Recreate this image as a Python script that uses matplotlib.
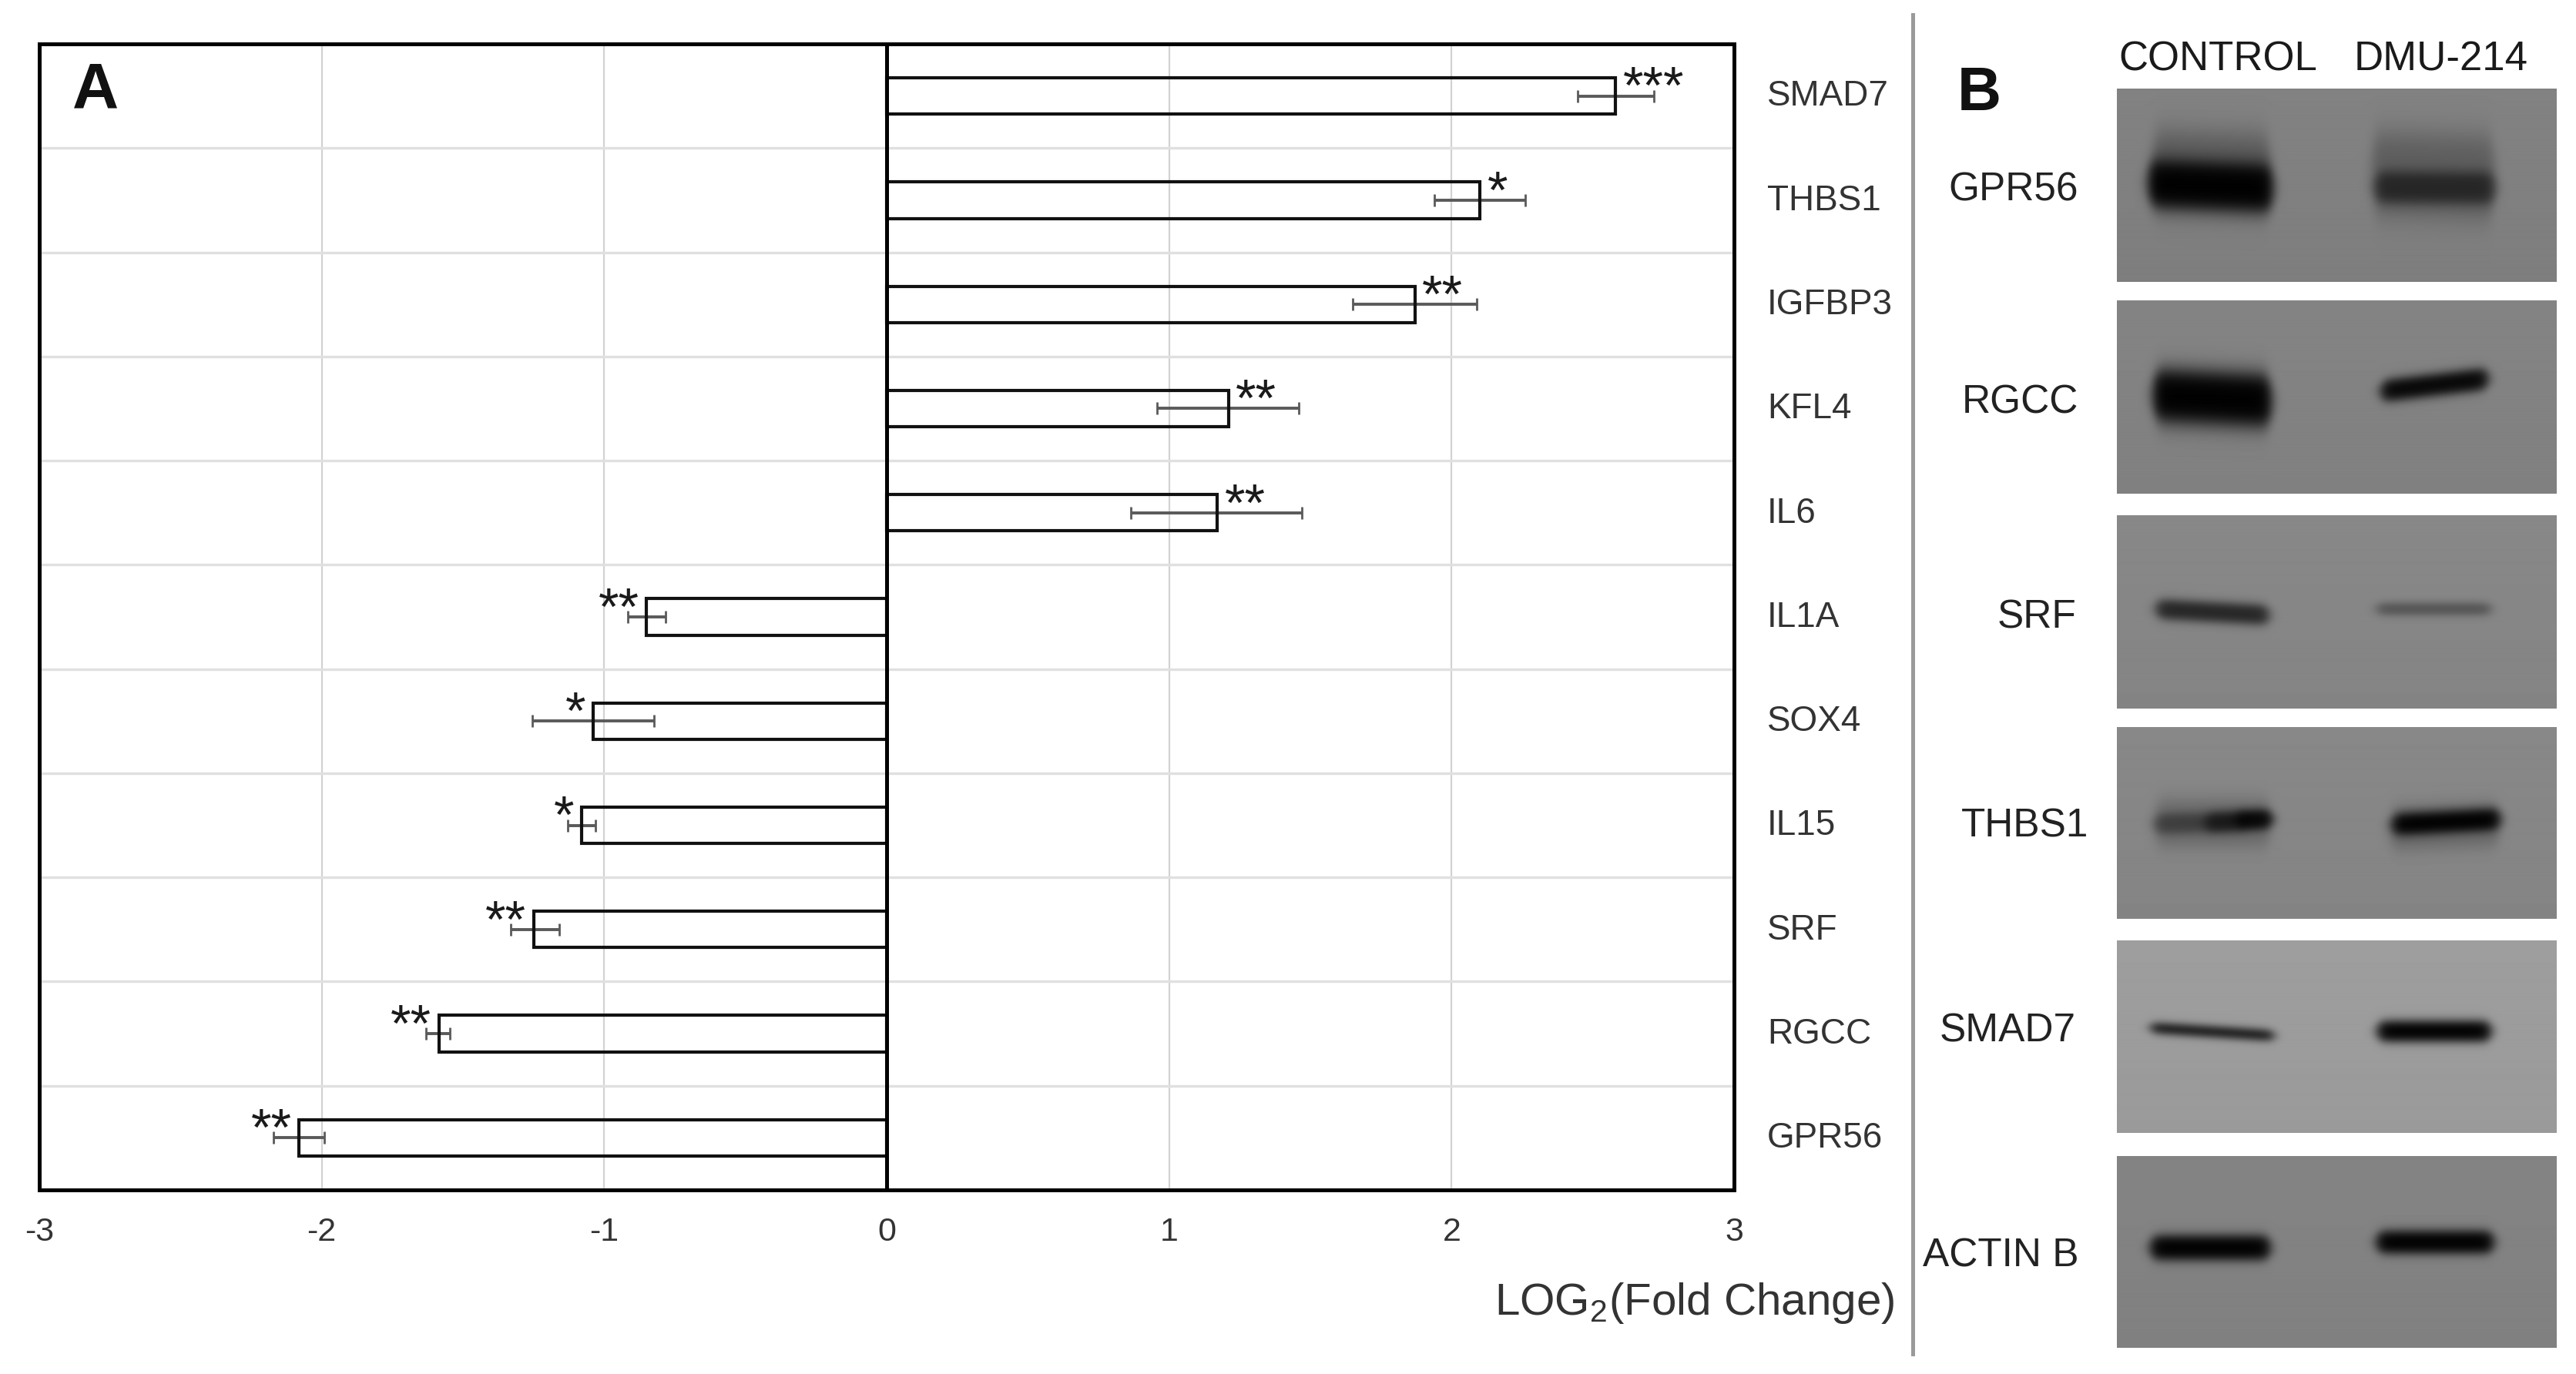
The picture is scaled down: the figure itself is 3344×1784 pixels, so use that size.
import numpy as np
import matplotlib
matplotlib.use("Agg")
import matplotlib.pyplot as plt
from matplotlib.ticker import FixedLocator

plt.rcParams['font.family'] = ['Liberation Sans', 'DejaVu Sans']
plt.rcParams['mathtext.default'] = 'regular'
plt.rcParams['axes.unicode_minus'] = False

# ---- panel A data ----
genes = ["SMAD7", "THBS1", "IGFBP3", "KFL4", "IL6", "IL1A", "SOX4", "IL15", "SRF", "RGCC", "GPR56"]
log2fc = [2.58, 2.10, 1.87, 1.21, 1.17, -0.85, -1.04, -1.08, -1.25, -1.585, -2.08]
err_low = [2.447, 1.94, 1.65, 0.957, 0.865, -0.917, -1.255, -1.13, -1.33, -1.63, -2.17]
err_high = [2.717, 2.26, 2.09, 1.46, 1.47, -0.783, -0.824, -1.03, -1.16, -1.547, -1.99]
stars = ["***", "*", "**", "**", "**", "**", "*", "*", "**", "**", "**"]
xtick_values = [-3, -2, -1, 0, 1, 2, 3]

# ---- panel B data ----
blot_names = ["GPR56", "RGCC", "SRF", "THBS1", "SMAD7", "ACTIN B"]
lane_names = ["CONTROL", "DMU-214"]
blot_background = [128, 130, 134, 134, 156, 130]
# each band: x start, x end, y at start, y at end, thickness, darkness
blot_bands = [
    [(.08, .35, .42, .44, .40, .30), (.07, .355, .49, .515, .24, 1.0), (.58, .86, .44, .46, .42, .28), (.587, .86, .51, .515, .16, .60)],
    [(.085, .35, .50, .52, .32, .22), (.082, .351, .49, .52, .25, 1.0), (.60, .845, .47, .405, .11, .95)],
    [(.088, .346, .487, .519, .10, .72), (.59, .852, .487, .487, .06, .38)],
    [(.085, .351, .50, .50, .24, .22), (.085, .30, .505, .49, .10, .42), (.20, .351, .50, .48, .10, .60), (.27, .351, .485, .48, .09, .85),
     (.62, .872, .53, .51, .22, .22), (.626, .872, .509, .48, .11, 1.0)],
    [(.075, .358, .456, .497, .055, .85), (.592, .852, .474, .474, .105, 1.0)],
    [(.075, .349, .478, .478, .125, 1.0), (.59, .858, .449, .449, .115, 1.0)],
]

W, H = 3344, 1784
fig = plt.figure(figsize=(W / 100, H / 100), dpi=100, facecolor="white")


def rect(x0, y0, x1, y1):
    return [x0 / W, 1 - y1 / H, (x1 - x0) / W, (y1 - y0) / H]


def ftext(x, y, s, **kw):
    fig.text(x / W, 1 - y / H, s, **kw)


# ---------------- panel A ----------------
ax = fig.add_axes(rect(51, 57, 2251, 1545))
y = np.arange(len(genes))
vals = np.array(log2fc)
low = np.array(err_low)
high = np.array(err_high)
ax.set_xlim(-3, 3)
ax.set_ylim(len(genes) - 0.5, -0.5)
ax.set_axisbelow(True)
ax.barh(y, vals, height=0.35, fill=False, edgecolor="#111111", linewidth=3.0, zorder=3)
ax.errorbar(vals, y, xerr=[vals - low, high - vals], fmt="none", ecolor="#5a5a5a",
            elinewidth=2.8, capsize=5.5, capthick=2.0, zorder=2.5)
ax.axvline(0, color="black", linewidth=3.6, zorder=4)
for yi, v, s in zip(y, vals, stars):
    sign = 1 if v > 0 else -1
    ax.annotate(s, (v, yi), xytext=(sign * 7, -7), textcoords="offset points",
                ha="left" if v > 0 else "right", va="baseline", fontsize=49, color="#1a1a1a", zorder=5)

ax.set_xticks(xtick_values)
ax.set_yticks(y)
ax.set_yticklabels(genes)
ax.yaxis.tick_right()
ax.yaxis.set_minor_locator(FixedLocator(y[:-1] + 0.5))
ax.grid(axis="x", which="major", color="#d2d2d2", linewidth=1.6)
ax.grid(axis="y", which="major", visible=False)
ax.grid(axis="y", which="minor", color="#e0e0e0", linewidth=2.4)
ax.tick_params(axis="x", length=0, pad=25, labelsize=31, labelcolor="#333333")
ax.tick_params(axis="y", which="major", length=0, pad=31, labelsize=33, labelcolor="#333333")
ax.tick_params(axis="y", which="minor", length=0)
for label in ax.get_yticklabels():
    label.set_y(label.get_position()[1])
    label.set_transform(label.get_transform() + matplotlib.transforms.ScaledTranslation(0, 3 / 72, fig.dpi_scale_trans))
for sp in ax.spines.values():
    sp.set_linewidth(3.6)
    sp.set_color("black")

ftext(94, 141, "A", fontsize=60, fontweight="bold", color="#111111", ha="left", va="baseline")
ftext(2459, 1707, "LOG$_2$(Fold Change)", fontsize=42, color="#333333", ha="right", va="baseline")

# ---------------- panel B ----------------
fig.add_artist(plt.Line2D([2483 / W, 2483 / W], [1 - 19 / H, 1 - 1758 / H], color="#9a9a9a", linewidth=3.6))
ftext(2541, 143, "B", fontsize=57, fontweight="bold", color="#111111", ha="left", va="baseline")
ftext(2750, 92, lane_names[0], fontsize=38, color="#1a1a1a", ha="left", va="baseline")
ftext(3056, 92, lane_names[1], fontsize=38, color="#1a1a1a", ha="left", va="baseline")

panel_tops = [115, 390, 669, 944, 1221, 1501]
panel_bottoms = [366, 641, 920, 1193, 1471, 1750]
label_right = [2698, 2698, 2695, 2711, 2695, 2699]
label_mid = [247, 523, 802, 1073, 1339, 1631]


def blur(img, sigma=4.0):
    r = int(3 * sigma)
    k = np.exp(-0.5 * (np.arange(-r, r + 1) / sigma) ** 2)
    k /= k.sum()
    pad = np.pad(img, r, mode="edge")
    pad = np.apply_along_axis(lambda m: np.convolve(m, k, mode="same"), 0, pad)
    pad = np.apply_along_axis(lambda m: np.convolve(m, k, mode="same"), 1, pad)
    return pad[r:-r, r:-r]


def render(bg, bands, nx=571, ny=250):
    xx, yy = np.meshgrid(np.linspace(0, 1, nx), np.linspace(0, 1, ny))
    img = np.full(yy.shape, float(bg)) + 6 * (0.5 - yy) * 0.6
    for x0, x1, y0, y1, t, d in bands:
        sx = 0.014
        ax_ = 0.5 * (np.tanh((xx - x0) / sx) - np.tanh((xx - x1) / sx))
        yc = y0 + (y1 - y0) * np.clip((xx - x0) / (x1 - x0), 0, 1)
        teff = t * np.sqrt(np.clip(ax_, 1e-3, 1))
        sy = max(0.012, t * 0.2)
        ay = 0.5 * (np.tanh((yy - yc + teff / 2) / sy) - np.tanh((yy - yc - teff / 2) / sy))
        img = img * (1 - d * ax_ * ay)
    return blur(img)


for i, name in enumerate(blot_names):
    pax = fig.add_axes(rect(2748, panel_tops[i], 3319, panel_bottoms[i]))
    pax.imshow(render(blot_background[i], blot_bands[i]), cmap="gray", vmin=0, vmax=255,
               aspect="auto", extent=(0, 1, 1, 0), interpolation="bilinear")
    pax.axis("off")
    ftext(label_right[i], label_mid[i], name, fontsize=37, color="#222222", ha="right", va="center")

fig.savefig("out.png", dpi=100, facecolor="white")
